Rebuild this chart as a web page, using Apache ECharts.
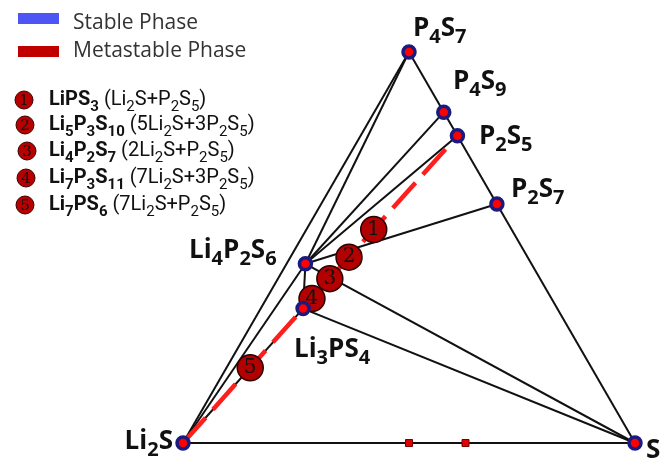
<!DOCTYPE html>
<html>
<head>
<meta charset="utf-8">
<script src="https://cdn.jsdelivr.net/npm/echarts@6/dist/echarts.min.js"></script>
<style>
    html, body { margin: 0; padding: 0; background: #fff; }
    #div_phase { width: 662px; height: 458px; }
</style>
</head>
<body>
<div id="div_phase"></div>
<script>
// 相：用 Li2S、P4S7、S 的配比表示（按原子数归一化）
const phaseNames = ['Li_2S', 'P_4S_7', 'S', 'P_4S_9', 'P_2S_5', 'P_2S_7', 'Li_4P_2S_6', 'Li_3PS_4'];
const phaseLi2S = [1, 0, 0, 0, 0, 0, 2, 1.5];
const phaseP4S7 = [0, 1, 0, 1, 0.5, 0.5, 0.5, 0.25];
const phaseS = [0, 0, 1, 2, 1.5, 3.5, 0.5, 0.75];

// 连接线
const tieLines = [
    ['Li_2S', 'S'], ['Li_2S', 'P_4S_7'], ['P_4S_7', 'S'],
    ['Li_2S', 'Li_4P_2S_6'], ['Li_2S', 'Li_3PS_4'], ['Li_4P_2S_6', 'Li_3PS_4'],
    ['Li_4P_2S_6', 'P_4S_7'], ['Li_4P_2S_6', 'P_4S_9'], ['Li_4P_2S_6', 'P_2S_5'],
    ['Li_4P_2S_6', 'P_2S_7'], ['Li_4P_2S_6', 'S'], ['Li_3PS_4', 'S']
];

// 亚稳连线
const metaLine = ['Li_2S', 'P_2S_5'];

// Li2S–S 边上的亚稳相 (Li2S + nS)
const edgeMetaS = [3, 5];

// 编号亚稳相，沿 Li2S→P2S5 连线的位置
const metaNo = ['1', '2', '3', '4', '5'];
const metaFormula = ['LiPS_3', 'Li_5P_3S_10', 'Li_4P_2S_7', 'Li_7P_3S_11', 'Li_7PS_6'];
const metaRecipe = ['Li_2S+P_2S_5', '5Li_2S+3P_2S_5', '2Li_2S+P_2S_5', '7Li_2S+3P_2S_5', '7Li_2S+P_2S_5'];
const metaPos = [0.695, 0.605, 0.535, 0.47, 0.245];

const SQ = Math.sqrt(3) / 2;

/**
 * 配比 -> 三角坐标
 */
const toXY = function (li2s, p4s7, s) {
    const a = 3 * li2s, b = 11 * p4s7, c = s;
    const t = a + b + c;
    return [(c + b / 2) / t, b / t * SQ];
};

const phaseXY = {};
phaseNames.forEach(function (n, i) {
    phaseXY[n] = toXY(phaseLi2S[i], phaseP4S7[i], phaseS[i]);
});

/**
 * 下标转富文本
 */
const toRich = function (str, main, sub) {
    return str.split(/_(\d+)/).map(function (part, i) {
        return part ? '{' + (i % 2 ? sub : main) + '|' + part + '}' : '';
    }).join('');
};

const labelRich = {
    m: {fontFamily: 'Open Sans', fontWeight: 'bold', fontSize: 26, fill: '#111', lineHeight: 26},
    s: {fontFamily: 'Open Sans', fontWeight: 'bold', fontSize: 20, fill: '#111', lineHeight: 37, verticalAlign: 'bottom'}
};
const listRich = {
    b: {fontFamily: 'Roboto', fontWeight: 'bold', fontSize: 20, fill: '#111', lineHeight: 20},
    bs: {fontFamily: 'Roboto', fontWeight: 'bold', fontSize: 15, fill: '#111', lineHeight: 29, verticalAlign: 'bottom'},
    n: {fontFamily: 'Roboto', fontSize: 20, fill: '#111', lineHeight: 20},
    ns: {fontFamily: 'Roboto', fontSize: 15, fill: '#111', lineHeight: 29, verticalAlign: 'bottom'}
};

const textEl = function (str, x, y, rich, main, sub, align) {
    return {
        type: 'text',
        x: x,
        y: y,
        style: {
            text: toRich(str, main, sub),
            rich: rich,
            align: align || 'left', textAlign: align || 'left',
            verticalAlign: 'middle', textVerticalAlign: 'middle'
        }
    };
};

// 相标签位置
const labelPos = {
    'P_4S_7': [413, 29], 'P_4S_9': [453, 82], 'P_2S_5': [479, 137], 'P_2S_7': [511, 190],
    'Li_4P_2S_6': [189, 251], 'Li_3PS_4': [294, 350], 'S': [646, 451]
};
const listY = [100, 125, 151, 178, 205];
const listCx = [24, 25, 27, 26, 25];

const graphics = [
    {type: 'rect', shape: {x: 18, y: 13, width: 41, height: 11}, style: {fill: '#4d56f5'}},
    {type: 'text', x: 73, y: 23, style: {text: 'Stable Phase', font: '21px "Open Sans"', fill: '#333',
        verticalAlign: 'middle', textVerticalAlign: 'middle'}},
    {type: 'rect', shape: {x: 18, y: 46, width: 41, height: 11}, style: {fill: '#c00000'}},
    {type: 'text', x: 73, y: 51, style: {text: 'Metastable Phase', font: '21px "Open Sans"', fill: '#333',
        verticalAlign: 'middle', textVerticalAlign: 'middle'}},
    textEl('Li_2S', 173, 442, labelRich, 'm', 's', 'right')
];
Object.keys(labelPos).forEach(function (n) {
    graphics.push(textEl(n, labelPos[n][0], labelPos[n][1], labelRich, 'm', 's'));
});
metaFormula.forEach(function (f, i) {
    graphics.push({type: 'circle', shape: {cx: listCx[i], cy: listY[i], r: 9},
        style: {fill: '#b80000', stroke: '#3a0000', lineWidth: 1}});
    graphics.push({type: 'text', x: listCx[i], y: listY[i] + 1, style: {text: metaNo[i],
        font: '15px "DejaVu Serif"', fill: '#111', align: 'center', textAlign: 'center',
        verticalAlign: 'middle', textVerticalAlign: 'middle'}});
    const t = textEl(f, 49, listY[i], listRich, 'b', 'bs');
    t.style.text += '{n| (}' + toRich(metaRecipe[i], 'n', 'ns') + '{n|)}';
    graphics.push(t);
});

const a0 = phaseXY[metaLine[0]], a1 = phaseXY[metaLine[1]];
const metaPoints = metaPos.map(function (t, i) {
    return {value: [a0[0] + (a1[0] - a0[0]) * t, a0[1] + (a1[1] - a0[1]) * t], name: metaNo[i]};
});

const option = {
    animation: false,
    grid: {left: 183, top: 52, width: 452, height: 391},
    xAxis: {type: 'value', min: 0, max: 1, show: false},
    yAxis: {type: 'value', min: 0, max: SQ, show: false},
    graphic: graphics,
    series: [
        {
            type: 'lines',
            coordinateSystem: 'cartesian2d',
            lineStyle: {color: '#111', width: 2, opacity: 1},
            data: tieLines.map(function (p) {
                return {coords: [phaseXY[p[0]], phaseXY[p[1]]]};
            }),
            z: 1
        },
        {
            type: 'line',
            symbol: 'none',
            lineStyle: {color: '#ff1e1e', width: 4.5, type: [34, 11], dashOffset: 0},
            data: [a0, a1],
            z: 2
        },
        {
            type: 'scatter',
            symbol: 'rect',
            symbolSize: 7,
            itemStyle: {color: '#e00000', borderColor: '#700', borderWidth: 1, opacity: 1},
            data: edgeMetaS.map(function (n) { return toXY(1, 0, n); }),
            z: 3
        },
        {
            type: 'scatter',
            symbolSize: 26,
            itemStyle: {color: '#b30000', borderColor: '#2a0000', borderWidth: 1.5, opacity: 1},
            label: {show: true, formatter: '{b}', fontFamily: 'DejaVu Serif', fontSize: 20, color: '#111'},
            data: metaPoints,
            z: 4
        },
        {
            type: 'scatter',
            symbolSize: 12,
            itemStyle: {color: '#ff0000', borderColor: '#1a1a80', borderWidth: 3.5, opacity: 1},
            data: phaseNames.map(function (n) { return phaseXY[n]; }),
            z: 5
        }
    ]
};

const div_phase = echarts.init(document.getElementById('div_phase'));
div_phase.setOption(option);
</script>
</body>
</html>
